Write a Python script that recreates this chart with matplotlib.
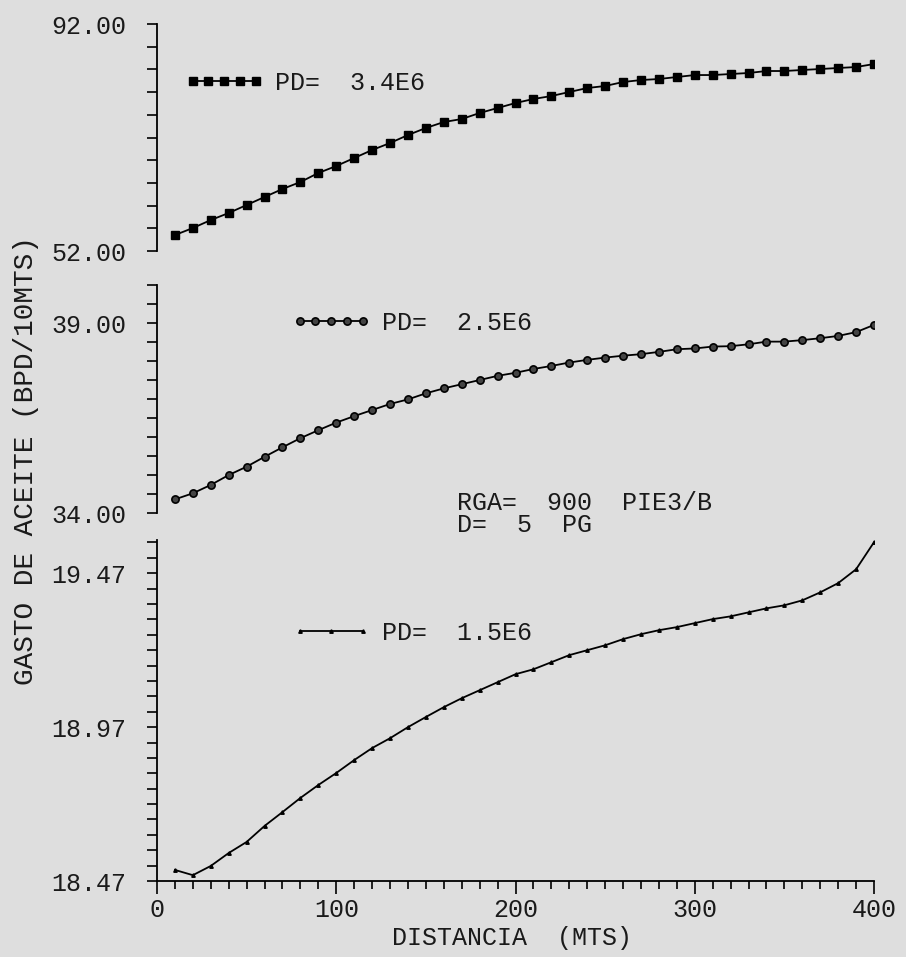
import numpy as np
import matplotlib
matplotlib.use('Agg')
import matplotlib.pyplot as plt
from matplotlib.ticker import MultipleLocator, FormatStrFormatter, FixedLocator

plt.rcParams['font.family'] = ['Liberation Mono', 'DejaVu Sans Mono']

# distancia (mts)
dist = np.arange(10, 401, 10)

# PD = 3.4E6
gasto_34 = [54.82, 56.05, 57.46, 58.70, 60.11, 61.52, 62.93, 64.16, 65.75, 66.98,
            68.39, 69.80, 71.03, 72.44, 73.68, 74.73, 75.26, 76.32, 77.20, 78.08,
            78.79, 79.31, 80.02, 80.72, 81.08, 81.78, 82.13, 82.31, 82.66, 83.01,
            83.01, 83.19, 83.37, 83.72, 83.72, 83.90, 84.07, 84.25, 84.42, 84.95]
# PD = 2.5E6
gasto_25 = [34.36, 34.52, 34.74, 35.00, 35.22, 35.48, 35.73, 35.97, 36.18, 36.38,
            36.55, 36.71, 36.87, 36.99, 37.15, 37.28, 37.39, 37.50, 37.61, 37.69,
            37.79, 37.87, 37.96, 38.03, 38.09, 38.14, 38.18, 38.24, 38.31, 38.33,
            38.38, 38.39, 38.44, 38.51, 38.51, 38.55, 38.60, 38.66, 38.76, 38.95]
# PD = 1.5E6
gasto_15 = [18.506, 18.489, 18.519, 18.561, 18.597, 18.649, 18.694, 18.740, 18.782, 18.821,
            18.863, 18.902, 18.934, 18.970, 19.003, 19.035, 19.064, 19.090, 19.116, 19.142,
            19.158, 19.181, 19.204, 19.220, 19.236, 19.256, 19.272, 19.285, 19.295, 19.308,
            19.321, 19.330, 19.343, 19.356, 19.366, 19.382, 19.408, 19.438, 19.483, 19.571]

labels = ['PD=  3.4E6', 'PD=  2.5E6', 'PD=  1.5E6']
ylims = [(52.0, 92.0), (34.0, 40.0), (18.47, 19.578)]
yticks_lab = [[52.0, 92.0], [34.0, 39.0], [18.47, 18.97, 19.47]]
ystep = [4.0, 0.5, 0.05]

bg = '#dedede'
fs = 18
ink = '#1a1a1a'
fig = plt.figure(figsize=(9.06, 9.57), dpi=100, facecolor=bg)

# [left, bottom, width, height] in figure fraction
left, width = 0.1733, 0.7914
ax_top = fig.add_axes([left, 0.7377, width, 0.2372])
ax_mid = fig.add_axes([left, 0.4639, width, 0.2383])
ax_bot = fig.add_axes([left, 0.0794, width, 0.3563])
axes = [ax_top, ax_mid, ax_bot]

ax_top.plot(dist, gasto_34, color='black', lw=1.3, marker='s', ms=5.2,
            mfc='black', mec='black', label=labels[0])
ax_mid.plot(dist, gasto_25, color='black', lw=1.3, marker='o', ms=5.2,
            mfc='#444444', mec='black', mew=1.2, label=labels[1])
ax_bot.plot(dist, gasto_15, color='black', lw=1.3, marker='^', ms=2.5,
            mfc='black', mec='black', label=labels[2])

for i, ax in enumerate(axes):
    ax.set_facecolor('none')
    ax.set_xlim(0, 400)
    ax.set_ylim(*ylims[i])
    for s in ['top', 'right']:
        ax.spines[s].set_visible(False)
    ax.spines['left'].set_linewidth(1.3)
    lo, hi = ylims[i]
    ticks = np.arange(lo, hi + 1e-6, ystep[i])
    ax.yaxis.set_major_locator(FixedLocator(yticks_lab[i]))
    ax.yaxis.set_minor_locator(FixedLocator(ticks))
    ax.yaxis.set_major_formatter(FormatStrFormatter('%.2f'))
    ax.tick_params(axis='y', which='both', direction='out', length=7, width=1.2,
                   pad=15, labelsize=fs, colors='black', labelcolor=ink)
    if ax is not ax_bot:
        ax.spines['bottom'].set_visible(False)
        ax.tick_params(axis='x', which='both', bottom=False, labelbottom=False)

ax_bot.spines['bottom'].set_linewidth(1.3)
ax_bot.xaxis.set_major_locator(MultipleLocator(100))
ax_bot.xaxis.set_minor_locator(MultipleLocator(10))
ax_bot.tick_params(axis='x', which='major', direction='out', length=9, width=1.2,
                   pad=3, labelsize=fs, labelcolor=ink)
ax_bot.tick_params(axis='x', which='minor', direction='out', length=6, width=1.2)

# legends: line sample with markers, placed in figure coordinates
leg_pos = [(185 / 906, 1 - 83 / 957), (292 / 906, 1 - 323 / 957), (292 / 906, 1 - 633 / 957)]
npts = [5, 5, 3]
for i, ax in enumerate(axes):
    leg = ax.legend(loc='center left', bbox_to_anchor=leg_pos[i], bbox_transform=fig.transFigure,
                    frameon=False, numpoints=npts[i], handlelength=3.15, handletextpad=0.45,
                    borderpad=0, borderaxespad=0, fontsize=fs)
    for t in leg.get_texts():
        t.set_color(ink)

fig.text(457 / 906, 1 - 503 / 957, 'RGA=  900  PIE3/B', fontsize=fs, color=ink,
         ha='left', va='center')
fig.text(457 / 906, 1 - 525 / 957, 'D=  5  PG', fontsize=fs, color=ink,
         ha='left', va='center')

fig.text(512 / 906, 1 - 938 / 957, 'DISTANCIA  (MTS)', fontsize=fs, color=ink,
         ha='center', va='center')
fig.text(26 / 906, 1 - 461 / 957, 'GASTO DE ACEITE (BPD/10MTS)', fontsize=20, color=ink,
         rotation=90, ha='center', va='center')

fig.savefig('out.png', dpi=100, facecolor=bg)
